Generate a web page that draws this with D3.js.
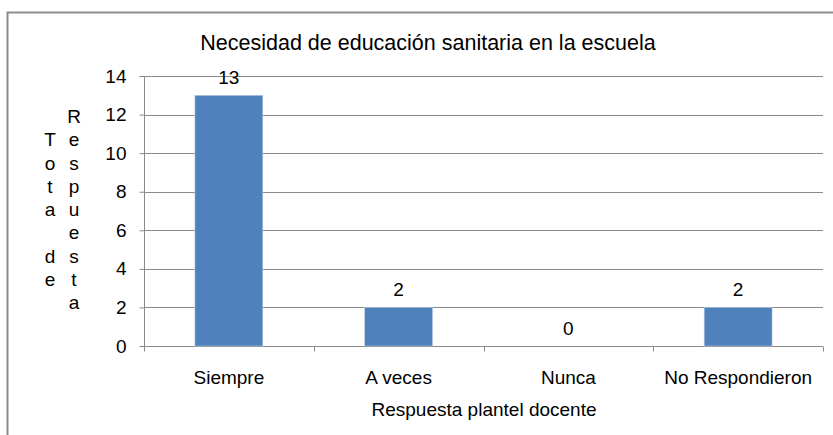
<!DOCTYPE html>
<html>
<head>
<meta charset="utf-8">
<script src="https://cdn.jsdelivr.net/npm/d3@7"></script>
<style>
  html, body { margin: 0; padding: 0; background: #fff; }
  svg { display: block; font-family: "Liberation Sans", Arial, sans-serif; }
</style>
</head>
<body>
<svg id="chart" width="833" height="435"></svg>
<script>
const categories = ["Siempre", "A veces", "Nunca", "No Respondieron"];
const values = [13, 2, 0, 2];
const yTicks = [0, 2, 4, 6, 8, 10, 12, 14];
const title = "Necesidad de educación sanitaria en la escuela";
const xTitle = "Respuesta plantel docente";
const yTitleCol1 = ["T", "o", "t", "a", "", "d", "e"];
const yTitleCol2 = ["R", "e", "s", "p", "u", "e", "s", "t", "a"];

const svg = d3.select("#chart");
const W = 833, H = 435;
const margin = { left: 144, right: 10, top: 76, bottom: 89 };
const plotW = W - margin.left - margin.right;
const plotH = H - margin.top - margin.bottom;
const FS = 19;

// outer border (left & top)
svg.append("path")
  .attr("d", `M7.5,${H} L7.5,12.5 L${W},12.5`)
  .attr("fill", "none").attr("stroke", "#8c8c8c").attr("stroke-width", 2);

const g = svg.append("g").attr("transform", `translate(${margin.left},${margin.top})`);

const x = d3.scaleBand().domain(categories).range([0, plotW]).paddingInner(0.6).paddingOuter(0.3);
const xb = d3.scaleBand().domain(categories).range([0, plotW]);
const y = d3.scaleLinear().domain([0, 14]).range([plotH, 0]);

// gridlines
g.selectAll(".grid").data(yTicks.filter(d => d > 0)).join("line")
  .attr("x1", 0).attr("x2", plotW)
  .attr("y1", d => Math.round(y(d)) + 0.5).attr("y2", d => Math.round(y(d)) + 0.5)
  .attr("stroke", "#8a8a8a").attr("stroke-width", 1);

// y axis
const yAxis = g.append("g").attr("transform", "translate(0.5,0)")
  .call(d3.axisLeft(y).tickValues(yTicks).tickSize(5).tickPadding(13));
yAxis.select(".domain").attr("stroke", "#8a8a8a").attr("d", `M-5,${Math.round(y(14))+0.5}H0V${plotH}`);
yAxis.selectAll(".tick line").attr("stroke", "#8a8a8a");
yAxis.selectAll(".tick text").attr("font-size", FS).attr("fill", "#000")
  .attr("font-family", "'Liberation Sans', Arial, sans-serif");

// x axis
const xAxisG = g.append("g").attr("transform", `translate(0,${plotH + 0.5})`);
xAxisG.append("line").attr("x1", 0).attr("x2", plotW).attr("stroke", "#8a8a8a");
const bounds = categories.map(c => xb(c)).concat([plotW]);
xAxisG.selectAll(".xt").data(bounds).join("line")
  .attr("x1", d => Math.round(d) + 0.5).attr("x2", d => Math.round(d) + 0.5)
  .attr("y1", 0).attr("y2", 5).attr("stroke", "#8a8a8a");
xAxisG.selectAll(".xl").data(categories).join("text")
  .attr("x", d => xb(d) + xb.bandwidth() / 2)
  .attr("y", 37)
  .attr("text-anchor", "middle").attr("font-size", FS).attr("fill", "#000")
  .text(d => d);

// bars
g.selectAll(".bar").data(values).join("rect")
  .attr("x", (d, i) => x(categories[i]))
  .attr("y", d => y(d))
  .attr("width", x.bandwidth())
  .attr("height", d => plotH - y(d))
  .attr("fill", "#4f81bd")
  .attr("stroke", "#b9cde5").attr("stroke-width", 0.6);

// data labels
g.selectAll(".lbl").data(values).join("text")
  .attr("x", (d, i) => x(categories[i]) + x.bandwidth() / 2)
  .attr("y", d => y(d) - 11)
  .attr("text-anchor", "middle").attr("font-size", FS).attr("fill", "#000")
  .text(d => d);

// title
svg.append("text").attr("x", 428).attr("y", 50)
  .attr("text-anchor", "middle").attr("font-size", 21.5).attr("fill", "#000")
  .text(title);

// x title
svg.append("text").attr("x", 484).attr("y", 416)
  .attr("text-anchor", "middle").attr("font-size", FS).attr("fill", "#000")
  .text(xTitle);

// y title (stacked letters)
const step = 23.25;
svg.append("text").attr("font-size", FS).attr("fill", "#000")
  .selectAll("tspan").data(yTitleCol1).join("tspan")
  .attr("x", 50).attr("y", (d, i) => 117 + (i + 1) * step + 6)
  .attr("text-anchor", "middle").text(d => d);
svg.append("text").attr("font-size", FS).attr("fill", "#000")
  .selectAll("tspan").data(yTitleCol2).join("tspan")
  .attr("x", 74).attr("y", (d, i) => 117 + i * step + 6)
  .attr("text-anchor", "middle").text(d => d);
</script>
</body>
</html>
